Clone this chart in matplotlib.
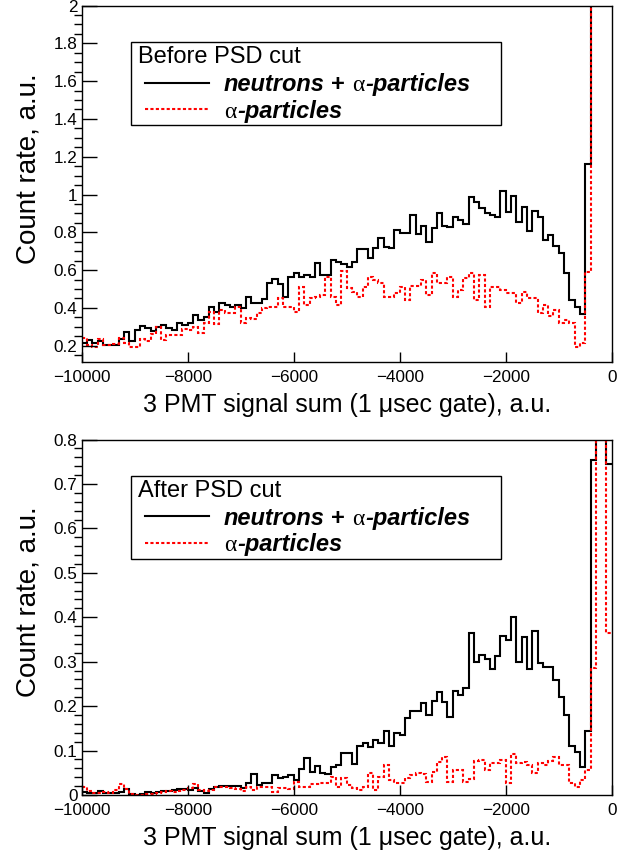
import numpy as np
import matplotlib
matplotlib.use("Agg")
import matplotlib.pyplot as plt
from matplotlib import transforms as mtransforms
from matplotlib.patches import Rectangle
from matplotlib.lines import Line2D
from matplotlib.ticker import MultipleLocator, FuncFormatter

plt.rcParams['font.family'] = ['Liberation Sans', 'DejaVu Sans']

# histogram binning: 100 bins from -10000 to 0
x_min, x_max, n_bins = -10000, 0, 100

# before PSD cut (bins above 2 are off scale, values there are guessed)
before_all = [
    0.212, 0.230, 0.212, 0.226, 0.204, 0.204, 0.204, 0.234, 0.271, 0.226,
    0.283, 0.304, 0.292, 0.279, 0.301, 0.309, 0.292, 0.283, 0.322, 0.309,
    0.322, 0.362, 0.336, 0.350, 0.406, 0.380, 0.424, 0.415, 0.406, 0.415,
    0.398, 0.459, 0.424, 0.424, 0.445, 0.530, 0.551, 0.525, 0.456, 0.565,
    0.586, 0.563, 0.575, 0.565, 0.638, 0.574, 0.575, 0.652, 0.642, 0.630,
    0.618, 0.644, 0.710, 0.713, 0.662, 0.717, 0.768, 0.724, 0.715, 0.810,
    0.796, 0.798, 0.893, 0.792, 0.835, 0.750, 0.821, 0.904, 0.833, 0.826,
    0.883, 0.865, 0.844, 0.988, 0.962, 0.927, 0.904, 0.891, 0.879, 1.018,
    0.909, 0.992, 0.856, 0.932, 0.808, 0.914, 0.883, 0.759, 0.786, 0.727,
    0.689, 0.583, 0.442, 0.403, 0.368, 1.161, 2.6, 3.0, 2.8, 2.5,
]
before_alpha = [
    0.239, 0.204, 0.195, 0.234, 0.204, 0.204, 0.209, 0.239, 0.212, 0.191,
    0.195, 0.234, 0.226, 0.262, 0.301, 0.230, 0.256, 0.256, 0.256, 0.288,
    0.283, 0.297, 0.265, 0.318, 0.380, 0.315, 0.389, 0.375, 0.371, 0.406,
    0.318, 0.345, 0.340, 0.375, 0.398, 0.407, 0.407, 0.451, 0.407, 0.403,
    0.380, 0.512, 0.415, 0.451, 0.459, 0.468, 0.565, 0.459, 0.415, 0.597,
    0.503, 0.486, 0.459, 0.512, 0.562, 0.548, 0.530, 0.456, 0.456, 0.477,
    0.512, 0.442, 0.516, 0.516, 0.548, 0.468, 0.583, 0.530, 0.530, 0.565,
    0.459, 0.495, 0.556, 0.583, 0.442, 0.574, 0.406, 0.512, 0.512, 0.495,
    0.477, 0.480, 0.424, 0.486, 0.450, 0.450, 0.375, 0.415, 0.357, 0.389,
    0.322, 0.336, 0.318, 0.195, 0.216, 0.592, 2.4, 2.9, 2.7, 2.3,
]

# after PSD cut (bins above 0.8 are off scale)
after_all = [
    0.006, 0.004, 0.004, 0.009, 0.004, 0.004, 0.004, 0.0075, 0.013, 0.002,
    0.001, 0.002, 0.006, 0.004, 0.006, 0.008, 0.008, 0.011, 0.013, 0.013,
    0.011, 0.015, 0.008, 0.005, 0.013, 0.017, 0.020, 0.020, 0.020, 0.020,
    0.015, 0.026, 0.047, 0.0225, 0.026, 0.026, 0.045, 0.0375, 0.041, 0.045,
    0.034, 0.058, 0.0825, 0.0525, 0.066, 0.050, 0.047, 0.064, 0.067, 0.094,
    0.094, 0.070, 0.110, 0.118, 0.107, 0.124, 0.118, 0.143, 0.110, 0.139,
    0.135, 0.173, 0.188, 0.190, 0.208, 0.180, 0.212, 0.232, 0.210, 0.175,
    0.233, 0.225, 0.240, 0.364, 0.300, 0.315, 0.305, 0.283, 0.313, 0.358,
    0.349, 0.401, 0.300, 0.356, 0.283, 0.368, 0.296, 0.287, 0.289, 0.259,
    0.221, 0.180, 0.110, 0.0975, 0.064, 0.143, 0.755, 0.95, 0.9, 0.746,
]
after_alpha = [
    0.017, 0.008, 0.004, 0.004, 0.007, 0.004, 0.011, 0.024, 0.013, 0.002,
    0.000, 0.000, 0.002, 0.002, 0.004, 0.006, 0.008, 0.006, 0.009, 0.011,
    0.015, 0.024, 0.011, 0.008, 0.011, 0.019, 0.019, 0.019, 0.015, 0.013,
    0.008, 0.017, 0.011, 0.019, 0.017, 0.019, 0.006, 0.015, 0.015, 0.013,
    0.030, 0.017, 0.019, 0.024, 0.024, 0.026, 0.026, 0.041, 0.019, 0.0375,
    0.0225, 0.015, 0.011, 0.019, 0.050, 0.011, 0.041, 0.0675, 0.034, 0.026,
    0.028, 0.0375, 0.045, 0.050, 0.048, 0.030, 0.0525, 0.075, 0.086, 0.030,
    0.056, 0.056, 0.030, 0.035, 0.077, 0.079, 0.056, 0.071, 0.073, 0.079,
    0.026, 0.092, 0.073, 0.075, 0.0675, 0.049, 0.071, 0.0675, 0.077, 0.086,
    0.0675, 0.0675, 0.026, 0.019, 0.034, 0.056, 0.285, 0.9, 0.85, 0.365,
]

x_ticks = [-10000, -8000, -6000, -4000, -2000, 0]
x_title = "3 PMT signal sum (1 \u03bcsec gate), a.u."
y_title = "Count rate, a.u."
headers = ["Before PSD cut", "After PSD cut"]

edges = np.linspace(x_min, x_max, n_bins + 1)

fig = plt.figure(figsize=(6.27, 8.51), dpi=100)
ax_top = fig.add_axes([0.1303, 0.5746, 0.8453, 0.4189])
ax_bot = fig.add_axes([0.1303, 0.0658, 0.8453, 0.4177])

lab_font = 12.3
title_font = 18
ytitle_font = 20
leg_font = 17
px = 100 / 72.0  # pixels per point


def fmt(v, _):
    return f"{v:g}".replace("-", "\u2212")


def rich_text(ax, x, y, pieces):
    # pieces: (text, font kwargs, gap after in px)
    renderer = fig.canvas.get_renderer()
    off = 0.0
    for s, kw, gap in pieces:
        tr = mtransforms.offset_copy(ax.transAxes, fig=fig, x=off, y=0, units='dots')
        t = ax.text(x, y, s, transform=tr, ha='left', va='baseline',
                    fontsize=leg_font, **kw)
        off += t.get_window_extent(renderer).width + gap


def draw_panel(ax, h_all, h_alpha, ylim, major, minor, header):
    ax.stairs(h_all, edges, baseline=None, color='black', lw=1.5)
    ax.stairs(h_alpha, edges, baseline=None, color='red', lw=1.5,
              ls=(0, (1.5, 1.1)))
    ax.set_xlim(x_min, x_max)
    ax.set_ylim(*ylim)
    ax.set_xticks(x_ticks)
    ax.yaxis.set_major_locator(MultipleLocator(major))
    ax.yaxis.set_minor_locator(MultipleLocator(minor))
    ax.xaxis.set_major_formatter(FuncFormatter(fmt))
    ax.yaxis.set_major_formatter(FuncFormatter(fmt))
    ax.tick_params(direction='in', top=False, right=False, labelsize=lab_font)
    ax.tick_params(axis='y', which='major', length=11, width=1, pad=3)
    ax.tick_params(axis='y', which='minor', length=5.5, width=1)
    ax.tick_params(axis='x', which='major', length=7.5, width=1, pad=6)
    for sp in ax.spines.values():
        sp.set_linewidth(1.0)

    ax.set_xlabel(x_title, fontsize=title_font)
    ax.xaxis.label.set_va('center')
    ax.xaxis.set_label_coords(0.5, -0.121)
    ax.set_ylabel(y_title, fontsize=ytitle_font)
    ax.yaxis.label.set_va('center')
    ax.yaxis.set_label_coords(-0.101, 0.543)

    # legend box, drawn by hand so the mixed fonts can be matched
    ax.add_patch(Rectangle((0.093, 0.664), 0.698, 0.233, transform=ax.transAxes,
                           facecolor='white', edgecolor='black', lw=1.0, zorder=5))
    base = 0.36 * leg_font * px / (ax.bbox.height)
    ax.text(0.106, 0.862 - base, header, transform=ax.transAxes, ha='left',
            va='baseline', fontsize=leg_font, zorder=6)
    ax.add_line(Line2D([0.1195, 0.2402], [0.784, 0.784], transform=ax.transAxes,
                       color='black', lw=1.5, zorder=6))
    ax.add_line(Line2D([0.1195, 0.2402], [0.709, 0.709], transform=ax.transAxes,
                       color='red', lw=1.5, ls=(0, (1.5, 1.1)), zorder=6))
    bi = dict(fontweight='bold', fontstyle='italic', zorder=6)
    sym = dict(family=['Liberation Serif', 'DejaVu Serif'], zorder=6)
    sp = 0.278 * leg_font * px
    rich_text(ax, 0.2685, 0.784 - base, [
        ("neutrons", bi, sp),
        ("+", dict(fontweight='bold', zorder=6), sp),
        ("\u03b1", sym, 1),
        ("-particles", bi, 0),
    ])
    rich_text(ax, 0.2685, 0.709 - base, [
        ("\u03b1", sym, 1),
        ("-particles", bi, 0),
    ])


draw_panel(ax_top, before_all, before_alpha, (0.1138, 2.0), 0.2, 0.05, headers[0])
draw_panel(ax_bot, after_all, after_alpha, (0.0, 0.8), 0.1, 0.02, headers[1])

fig.savefig("out.png", dpi=100)
